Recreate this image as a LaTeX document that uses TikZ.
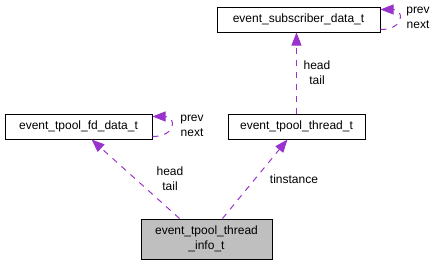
\documentclass[tikz,border=0pt]{standalone}
\usepackage{fontspec}
\setmainfont{Liberation Sans}
\usetikzlibrary{arrows.meta}

\definecolor{edgepurple}{HTML}{9A32CD}
\definecolor{boxgray}{HTML}{BFBFBF}

\tikzset{
  classbox/.style={draw=black, line width=1pt, minimum height=25pt, inner sep=0pt,
    font=\fontsize{12}{15}\selectfont},
  edge/.style={draw=edgepurple, line width=1pt, dash pattern=on 6pt off 6pt,
    -{Triangle[length=13pt,width=10pt,fill=edgepurple]}},
  edgelabel/.style={font=\fontsize{12}{15}\selectfont, align=center, inner sep=0pt}
}

\begin{document}
\begin{tikzpicture}[x=1pt,y=-1pt]
    \useasboundingbox (0,0) rectangle (437,265);

    % classes
    \node[classbox, minimum width=163pt] (subdata) at (298.5,19.5) {event\_subscriber\_data\_t};
    \node[classbox, minimum width=147pt] (fddata) at (78.5,126.5) {event\_tpool\_fd\_data\_t};
    \node[classbox, minimum width=137pt] (thread) at (296.5,126.5) {event\_tpool\_thread\_t};
    \node[classbox, fill=boxgray, minimum width=131pt, minimum height=40pt, align=center]
        (threadinfo) at (206.5,239) {event\_tpool\_thread\\\_info\_t};

    % members
    \draw[edge] ([xshift=39pt]threadinfo.north west) -- ([xshift=87pt]fddata.south west);
    \draw[edge] ([xshift=82pt]threadinfo.north west) -- ([xshift=60pt]thread.south west);
    \draw[edge] (thread.north) -- (thread.north |- subdata.south);

    % prev / next loops
    \draw[edge] ([yshift=3pt]fddata.south east) .. controls +(24,0) and +(24,0) .. ([yshift=-3pt]fddata.north east);
    \draw[edge] ([yshift=3pt]subdata.south east) .. controls +(24,0) and +(24,0) .. ([yshift=-3pt]subdata.north east);

    \node[edgelabel] (fdheadtail) at (170,178.5) {head\\tail};
    \node[edgelabel] (fdprevnext) at (192,125.5) {prev\\next};
    \node[edgelabel] (subprevnext) at (418,18) {prev\\next};
    \node[edgelabel] (subheadtail) at (317,72.5) {head\\tail};
    \node[edgelabel] (tinstance) at (294,179) {tinstance};

\end{tikzpicture}
\end{document}
